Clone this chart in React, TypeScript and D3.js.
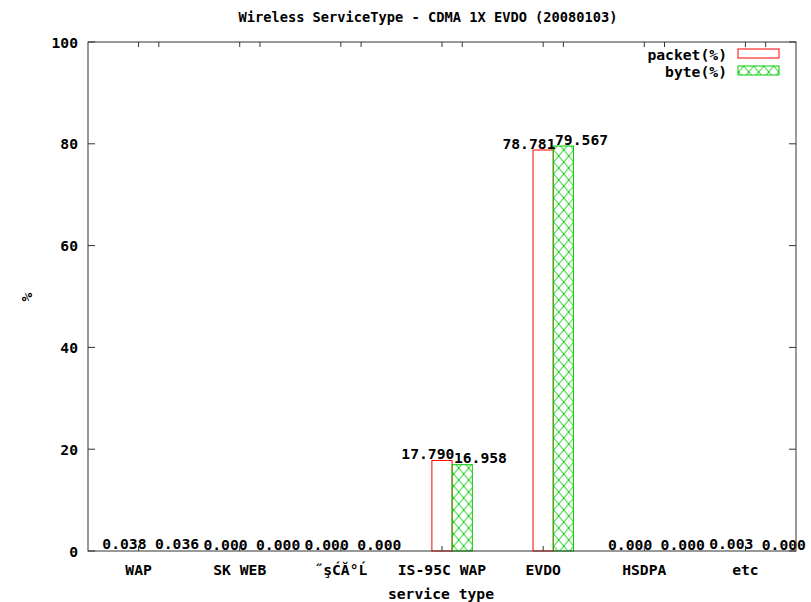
import React from "react";
import * as d3 from "d3";

const categories = ["WAP", "SK WEB", "˝şĆĂ°Ĺ", "IS-95C WAP", "EVDO", "HSDPA", "etc"];
const packetValues = [0.038, 0.0, 0.0, 17.79, 78.781, 0.0, 0.003];
const byteValues = [0.036, 0.0, 0.0, 16.958, 79.567, 0.0, 0.0];
const yTicks = [0, 20, 40, 60, 80, 100];
const seriesNames = ["packet(%)", "byte(%)"];

const W = 811;
const H = 602;
const L = 88, R = 796, T = 42, B = 551;
const FONT = "'DejaVu Sans Mono', monospace";
const RED = "#ff0000";
const GREEN = "#00cc00";
const AX = "#333333";

export default function App() {
  const x = d3.scaleLinear().domain([-0.5, categories.length - 0.5]).range([L, R]);
  const y = d3.scaleLinear().domain([0, 100]).range([B, T]);
  const bw = 0.2;
  return (
    <svg width={W} height={H} style={{ position: "absolute", left: 0, top: 0, background: "#fff" }}
      fontFamily={FONT} fontWeight="bold">
      <defs>
        <pattern id="xhatch" patternUnits="userSpaceOnUse" width="10" height="12" x={x(0.1)} y={0}>
          <path d="M0,0 L10,12 M10,0 L0,12 M-1,11 L1,13 M9,-1 L11,1" stroke={GREEN} strokeWidth="1" fill="none" />
        </pattern>
      </defs>
      <text x={428} y={17} textAnchor="middle" dominantBaseline="central" fontSize={13.7}>
        Wireless ServiceType - CDMA 1X EVDO (20080103)
      </text>
      {/* bars */}
      {categories.map((c, i) => {
        const pv = packetValues[i];
        const bv = byteValues[i];
        return (
          <g key={c}>
            {y(0) - y(pv) >= 1 && (
              <rect x={x(i - bw / 2)} y={y(pv)} width={x(i + bw / 2) - x(i - bw / 2)} height={y(0) - y(pv)}
                fill="none" stroke={RED} strokeWidth={1} />
            )}
            {y(0) - y(bv) >= 1 && (
              <rect x={x(i + bw / 2)} y={y(bv)} width={x(i + 1.5 * bw) - x(i + bw / 2)} height={y(0) - y(bv)}
                fill="url(#xhatch)" stroke={GREEN} strokeWidth={1} />
            )}
            <text x={x(i - 0.14)} y={y(pv) - 7} textAnchor="middle" dominantBaseline="central" fontSize={14.7}>
              {pv.toFixed(3)}
            </text>
            <text x={x(i + 0.38)} y={y(bv) - 7} textAnchor="middle" dominantBaseline="central" fontSize={14.7}>
              {bv.toFixed(3)}
            </text>
          </g>
        );
      })}
      {/* frame */}
      <rect x={L} y={T} width={R - L} height={B - T} fill="none" stroke={AX} strokeWidth={1} />
      {yTicks.map((t) => (
        <g key={t}>
          <line x1={L} x2={L + 7} y1={y(t)} y2={y(t)} stroke={AX} />
          <line x1={R - 7} x2={R} y1={y(t)} y2={y(t)} stroke={AX} />
          <text x={78} y={y(t)} textAnchor="end" dominantBaseline="central" fontSize={14.7}>{t}</text>
        </g>
      ))}
      {categories.map((c, i) => (
        <g key={"t" + c}>
          <line x1={x(i)} x2={x(i)} y1={B} y2={B - 5} stroke={AX} />
          <line x1={x(i)} x2={x(i)} y1={T} y2={T + 5} stroke={AX} />
          <line x1={x(i + bw)} x2={x(i + bw)} y1={T} y2={T + 5} stroke={AX} />
          <text x={x(i)} y={569} textAnchor="middle" dominantBaseline="central" fontSize={14.7}>{c}</text>
        </g>
      ))}
      <text x={441} y={593} textAnchor="middle" dominantBaseline="central" fontSize={14.7}>service type</text>
      <text transform="translate(26,297) rotate(-90)" textAnchor="middle" dominantBaseline="central" fontSize={14.7}>%</text>
      {/* legend */}
      <text x={727} y={54} textAnchor="end" dominantBaseline="central" fontSize={14.7}>{seriesNames[0]}</text>
      <rect x={738} y={49} width={41} height={9} fill="none" stroke={RED} />
      <text x={727} y={71} textAnchor="end" dominantBaseline="central" fontSize={14.7}>{seriesNames[1]}</text>
      <rect x={738} y={66} width={41} height={9} fill="url(#xhatch)" stroke={GREEN} />
    </svg>
  );
}
